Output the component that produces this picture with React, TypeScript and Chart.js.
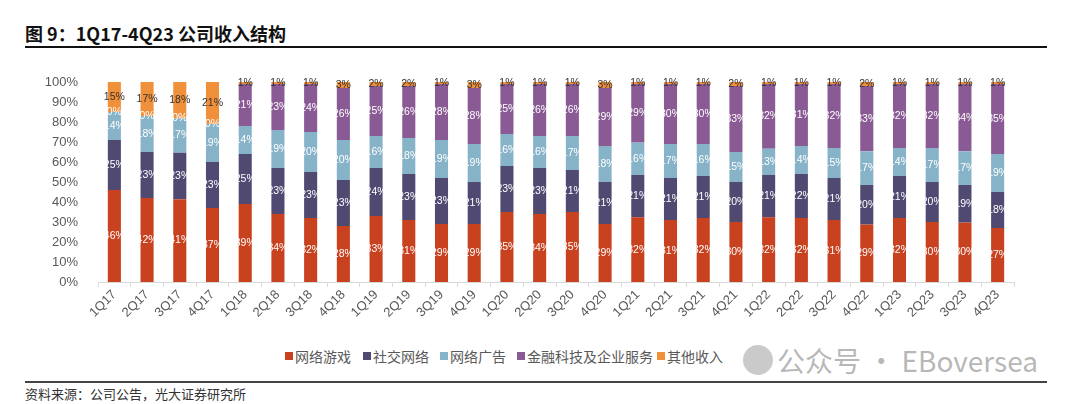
import React, { useEffect, useRef } from "react";
import { Chart, registerables } from "chart.js";

Chart.register(...registerables);

const quarters = ["1Q17","2Q17","3Q17","4Q17","1Q18","2Q18","3Q18","4Q18","1Q19","2Q19","3Q19","4Q19","1Q20","2Q20","3Q20","4Q20","1Q21","2Q21","3Q21","4Q21","1Q22","2Q22","3Q22","4Q22","1Q23","2Q23","3Q23","4Q23"];
const games = [46,42,41,37,39,34,32,28,33,31,29,29,35,34,35,29,32,31,32,30,32,32,31,29,32,30,30,27];
const social = [25,23,23,23,25,23,23,23,24,23,23,21,23,23,21,21,21,21,21,20,21,22,21,20,21,20,19,18];
const ads = [14,18,17,19,14,19,20,20,16,18,19,19,16,16,17,18,16,17,16,15,13,14,15,17,14,17,17,19];
const fintech = [0,0,0,0,21,23,24,26,25,26,28,28,25,26,26,29,29,30,30,33,32,31,32,33,32,32,34,35];
const other = [15,17,18,21,1,1,1,3,2,2,1,3,1,1,1,3,1,1,1,2,1,1,1,2,1,1,1,1];
const seriesNames = ["网络游戏","社交网络","网络广告","金融科技及企业服务","其他收入"];
const seriesColors = ["#C8421F","#504A72","#87B3C8","#8A5A94","#F0903A"];
const labelColors = ["#ffffff","#ffffff","#ffffff","#ffffff","#333333"];
const yTicks = [0,10,20,30,40,50,60,70,80,90,100];

const FONT = "'Noto Sans CJK SC', 'Noto Sans', sans-serif";

const labelPlugin = {
  id: "segLabels",
  afterDatasetsDraw(chart: any) {
    const ctx = chart.ctx;
    ctx.save();
    ctx.font = "10.5px 'Liberation Sans', Arial, sans-serif";
    ctx.textAlign = "center";
    ctx.textBaseline = "middle";
    chart.data.datasets.forEach((ds: any, di: number) => {
      const meta = chart.getDatasetMeta(di);
      meta.data.forEach((el: any, i: number) => {
        const raw = ds.raw[i];
        const y = (el.y + el.base) / 2;
        ctx.fillStyle = labelColors[di];
        ctx.fillText(raw + "%", el.x, y);
      });
    });
    ctx.restore();
  },
};

export default function App() {
  const ref = useRef<HTMLCanvasElement>(null);
  useEffect(() => {
    document.body.style.margin = "0";
    const raws = [games, social, ads, fintech, other];
    const totals = quarters.map((_, i) => raws.reduce((s, a) => s + a[i], 0));
    const chart = new Chart(ref.current!, {
      type: "bar",
      data: {
        labels: quarters,
        datasets: raws.map((arr, di) => ({
          label: seriesNames[di],
          data: arr.map((v, i) => (v / totals[i]) * 100),
          raw: arr,
          backgroundColor: seriesColors[di],
          borderWidth: 0,
          barPercentage: 0.4,
          categoryPercentage: 1,
        })) as any,
      },
      options: {
        animation: false,
        responsive: false,
        maintainAspectRatio: false,
        layout: { padding: { left: 0, right: 66, top: 22, bottom: 0 } },
        plugins: { legend: { display: false }, tooltip: { enabled: false } },
        scales: {
          x: {
            stacked: true,
            offset: true,
            grid: { display: true, drawOnChartArea: false, drawTicks: true, tickLength: 5, color: "#d9d9d9", offset: true },
            border: { display: true, color: "#d9d9d9" },
            ticks: { minRotation: 45, maxRotation: 45, color: "#595959", font: { size: 13, family: "'Liberation Sans', Arial, sans-serif" }, padding: 0, autoSkip: false },
            afterFit: (s: any) => { s.height = 58; },
          },
          y: {
            stacked: true,
            min: 0,
            max: 100,
            grid: { display: false },
            border: { display: false },
            afterBuildTicks: (s: any) => { s.ticks = yTicks.map((v) => ({ value: v })); },
            ticks: { color: "#595959", font: { size: 13, family: "'Liberation Sans', Arial, sans-serif" }, padding: 12, callback: (v: any) => v + "%" },
            afterFit: (s: any) => { s.width = 98; },
          },
        },
      },
      plugins: [labelPlugin],
    });
    return () => chart.destroy();
  }, []);

  return (
    <div style={{ position: "relative", width: 1080, height: 404, background: "#fff", overflow: "hidden", fontFamily: FONT }}>
      <div style={{ position: "absolute", left: 25, top: 20, fontSize: 18, fontWeight: 700, color: "#111", lineHeight: "26px", whiteSpace: "nowrap" }}>
        图 9：1Q17-4Q23 公司收入结构
      </div>
      <div style={{ position: "absolute", left: 25, top: 46, width: 1022, height: 2, background: "#111" }} />
      <canvas ref={ref} width={1080} height={280} style={{ position: "absolute", left: 0, top: 60, width: 1080, height: 280 }} />
      {seriesNames.map((n, i) => {
        const lefts = [285, 363, 440, 517, 657];
        return (
          <div key={n} style={{ position: "absolute", left: lefts[i], top: 346, display: "flex", alignItems: "center", fontSize: 14, color: "#595959", lineHeight: "20px", whiteSpace: "nowrap" }}>
            <span style={{ display: "inline-block", width: 8, height: 8, background: seriesColors[i], marginRight: 2 }} />
            {n}
          </div>
        );
      })}
      <div style={{ position: "absolute", left: 743, top: 345, width: 30, height: 30, borderRadius: 15, background: "rgba(150,150,150,0.5)" }} />
      <div style={{ position: "absolute", left: 777, top: 342, fontSize: 28, color: "rgba(160,160,160,0.75)", lineHeight: "36px", whiteSpace: "nowrap" }}>
        公众号 · EBoversea
      </div>
      <div style={{ position: "absolute", left: 25, top: 381, width: 1022, height: 2, background: "#444" }} />
      <div style={{ position: "absolute", left: 25, top: 385, fontSize: 13, color: "#333", lineHeight: "18px" }}>
        资料来源：公司公告，光大证券研究所
      </div>
    </div>
  );
}
